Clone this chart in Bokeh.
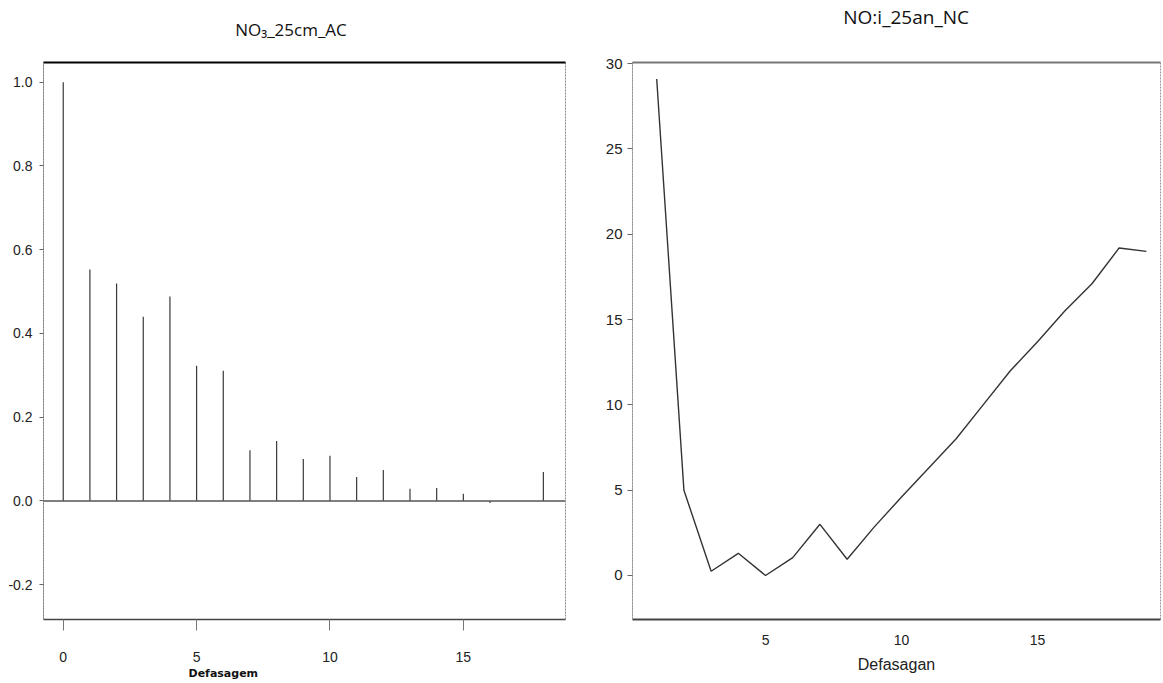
from bokeh.plotting import figure
from bokeh.models import Range1d, FixedTicker, Span, Title, LinearAxis
from bokeh.layouts import row
from bokeh.embed import file_html
from bokeh.resources import INLINE

# ---------------- data ----------------
acf_lags = list(range(19))
acf_values = [1.0, 0.553, 0.519, 0.44, 0.488, 0.323, 0.311, 0.121, 0.143, 0.100,
              0.108, 0.057, 0.074, 0.029, 0.031, 0.017, -0.005, 0.0, 0.069]
acf_yticks = [-0.2, 0.0, 0.2, 0.4, 0.6, 0.8, 1.0]
acf_ytick_labels = ["-0.2", "0.0", "0.2", "0.4", "0.6", "0.8", "1.0"]
acf_xticks = [0, 5, 10, 15]

line_lags = list(range(1, 20))
line_values = [29.1, 5.0, 0.25, 1.3, 0.0, 1.05, 3.0, 0.95, 2.85, 4.6,
               6.3, 8.0, 10.0, 12.0, 13.7, 15.5, 17.1, 19.2, 19.0]
line_yticks = [0, 5, 10, 15, 20, 25, 30]
line_xticks = [5, 10, 15]

left_title = "NO\u2083_25cm_AC"
right_title = "NO:i_25an_NC"
left_xlabel = "Defasagem"
right_xlabel = "Defasagan"

TICK_FONT = "Liberation Sans"
TITLE_FONT = "Open Sans"


def title_axis(pos, text, size, standoff, line_color, line_width):
    ax = LinearAxis(ticker=FixedTicker(ticks=[pos]),
                    major_label_overrides={pos: text})
    ax.major_tick_out = 0
    ax.major_tick_in = 0
    ax.minor_tick_line_color = None
    ax.major_tick_line_color = None
    ax.axis_line_color = line_color
    ax.axis_line_width = line_width
    ax.major_label_text_font = TITLE_FONT
    ax.major_label_text_font_size = size
    ax.major_label_text_color = "#111111"
    ax.major_label_standoff = standoff
    return ax


# ---------------- left chart ----------------
L_X0, L_X1 = -0.74, 18.83
L_Y0, L_Y1 = -0.283, 1.047
p1 = figure(width=592, height=683, x_range=Range1d(L_X0, L_X1), y_range=Range1d(L_Y0, L_Y1),
            output_backend="svg", toolbar_location=None, title=None,
            min_border_left=43, min_border_right=27, min_border_top=62, min_border_bottom=64)
p1.grid.visible = False
p1.outline_line_color = "#8a8a8a"
p1.outline_line_dash = "2 1"
p1.outline_line_width = 1
xa = p1.below[0]
ya = p1.left[0]

p1.segment(x0=acf_lags, y0=[0] * len(acf_lags), x1=acf_lags, y1=acf_values,
           line_color="#3a3a3a", line_width=1.2)
p1.add_layout(Span(location=0, dimension="width", line_color="#555555", line_width=1.4))

xa.ticker = FixedTicker(ticks=acf_xticks)
xa.major_tick_out = 11
xa.major_tick_in = 0
xa.minor_tick_line_color = None
xa.major_tick_line_color = "#777777"
xa.axis_line_color = "#444444"
xa.axis_line_width = 1.5
xa.major_label_text_font = TICK_FONT
xa.major_label_text_font_size = "14px"
xa.major_label_text_color = "#222222"
xa.major_label_standoff = 21

ya.ticker = FixedTicker(ticks=acf_yticks)
ya.major_label_overrides = {t: s for t, s in zip(acf_yticks, acf_ytick_labels)}
ya.major_tick_out = 4
ya.major_tick_in = 0
ya.minor_tick_line_color = None
ya.major_tick_line_color = "#666666"
ya.axis_line_color = "#888888"
ya.axis_line_dash = "2 1"
ya.major_label_text_font = TICK_FONT
ya.major_label_text_font_size = "14px"
ya.major_label_text_color = "#222222"
ya.major_label_standoff = 7

p1.add_layout(title_axis(8.54, left_title, "17px", 22, "black", 2), "above")
p1.add_layout(Title(text=left_xlabel, align="left", offset=145, standoff=0,
                    text_font="DejaVu Sans", text_font_size="11px",
                    text_font_style="bold", text_color="#111111"), "below")

# ---------------- right chart ----------------
R_X0, R_X1 = 0.11, 19.52
R_Y0, R_Y1 = -2.58, 30.07
p2 = figure(width=571, height=683, x_range=Range1d(R_X0, R_X1), y_range=Range1d(R_Y0, R_Y1),
            output_backend="svg", toolbar_location=None, title=None,
            min_border_left=40, min_border_right=3, min_border_top=62, min_border_bottom=64)
p2.grid.visible = False
p2.outline_line_color = "#9a9a9a"
p2.outline_line_dash = "2 1"
p2.outline_line_width = 1
xb = p2.below[0]
yb = p2.left[0]

p2.line(line_lags, line_values, line_color="#333333", line_width=1.4)

xb.ticker = FixedTicker(ticks=line_xticks)
xb.major_tick_out = 0
xb.major_tick_in = 0
xb.minor_tick_line_color = None
xb.axis_line_color = "#444444"
xb.axis_line_width = 2
xb.major_label_text_font = TICK_FONT
xb.major_label_text_font_size = "14px"
xb.major_label_text_color = "#222222"
xb.major_label_standoff = 15
xb.axis_label = right_xlabel
xb.axis_label_text_font = TICK_FONT
xb.axis_label_text_font_size = "16px"
xb.axis_label_text_font_style = "normal"
xb.axis_label_text_color = "#222222"
xb.axis_label_standoff = 8

yb.ticker = FixedTicker(ticks=line_yticks)
yb.major_tick_out = 5
yb.major_tick_in = 0
yb.minor_tick_line_color = None
yb.major_tick_line_color = "#666666"
yb.axis_line_color = "#999999"
yb.axis_line_dash = "2 1"
yb.major_label_text_font = TICK_FONT
yb.major_label_text_font_size = "15px"
yb.major_label_text_color = "#222222"
yb.major_label_standoff = 5

p2.add_layout(title_axis(10.17, right_title, "19px", 33, "#777777", 2), "above")

layout = row(p1, p2)
open("out.html", "w").write(file_html(layout, INLINE))
